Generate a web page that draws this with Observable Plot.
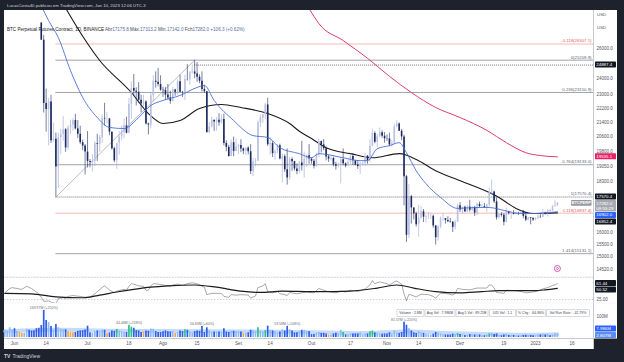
<!DOCTYPE html>
<html><head><meta charset="utf-8">
<script src="https://cdn.jsdelivr.net/npm/d3@7"></script>
<script src="https://cdn.jsdelivr.net/npm/@observablehq/plot@0.6"></script>
<style>
html,body{margin:0;padding:0;}
body{width:624px;height:362px;background:#1e222d;position:relative;overflow:hidden;font-family:"Liberation Sans","DejaVu Sans",Arial,sans-serif;}
#frame{position:absolute;left:4px;top:10px;width:613px;height:339px;background:#fff;}
#frame svg{position:absolute;left:0;display:block;overflow:visible;}
#overlay{position:absolute;left:0;top:0;pointer-events:none;}
</style></head><body>
<div id="frame"></div>
<svg id="overlay" width="624" height="362"></svg>
<script>
// ---------------- DATA ----------------
const firstDay = "2022-05-28";
const lastDay = "2023-01-10";
const firstOpen = 28900;
const gapOpens = {"2022-06-12": 27800};
const closes = [
 29030,29450,31720,31790,
 29800,30450,29700,29860,29910,31370,31130,30200,30110,29080,28800,26575,22490,22130,22570,20380,20470,19020,20550,20720,20980,20000,21100,21230,21500,21030,20730,20280,20100,19780,
 19300,19240,19300,20230,20190,20550,21620,21590,21590,20850,19960,19330,20230,20590,20830,21200,20790,22430,23400,23230,23160,22680,22460,22580,21310,21250,22950,23850,23780,23640,23290,
 23270,22990,22820,22620,23310,23170,23810,23160,23150,23950,23940,24400,24440,24300,24100,23850,23340,23200,20830,21140,21520,21410,21520,21370,21560,20240,20030,19550,20280,19810,20050,
 20130,19950,19830,19990,19800,18790,19290,19320,21360,21650,21830,22400,20170,20230,19700,19800,20110,19420,19540,18880,18480,19400,19290,18920,18800,19220,19080,19410,19590,19420,
 19310,19050,19630,20340,20160,19960,19530,19420,19450,19130,19060,19160,19380,19180,19070,19260,19550,19330,19120,19040,19170,19210,19570,19330,20090,20770,20300,20600,20820,20630,20490,
 20480,20160,20210,21150,21300,20900,20590,18540,15880,17590,17070,16810,16330,16620,16900,16660,16690,16700,16700,16280,15780,16230,16600,16600,16520,16460,16440,16220,16440,17170,
 16980,17100,16890,17110,16970,17090,16840,17230,17130,17130,17090,17210,17780,17800,17350,16630,16780,16740,16440,16900,16820,16820,16780,16840,16830,16910,16700,16530,16630,16600,16540,
 16610,16670,16660,16850,16830,16950,16940,17120,17175.8,17282.0
];
const highs = [
 29250,29550,32220,32400,
 31900,30650,30700,29950,30150,31700,31550,31300,30650,30350,29450,27850,26900,23360,22800,22980,21350,20800,20800,21000,21720,21050,21200,21520,21600,21860,21500,21180,20420,20180,
 20880,19400,19650,20330,20730,20670,21820,22500,21950,21600,20860,20040,20250,20880,21200,21580,21690,22780,23800,24280,23440,23760,22990,22980,22650,21350,23100,24200,24440,24660,24190,
 23470,23450,23640,23220,23460,23350,23920,24240,23220,24230,24920,24460,24890,25209.9,25050,24250,24450,23600,23200,21380,21680,21520,21680,21890,21820,21870,20380,20140,20420,20580,20480,
 20200,20440,20000,20000,20060,20180,19460,19440,21480,21800,21860,22490,22800,20550,20340,19900,20190,20200,19680,19640,19950,19500,19490,19310,19180,19300,20350,19780,19640,20180,
 19480,19400,19720,20470,20370,20450,20050,19620,19550,19520,19250,19220,19500,19950,19220,19420,19680,19700,19350,19340,19250,19260,19700,19600,20420,21020,20870,20750,21080,20930,20830,
 20700,20800,20390,21300,21480,21370,21000,20680,18600,18150,17650,17070,16880,17190,17130,17000,16750,16870,16810,16750,16300,16290,16670,16800,16600,16680,16600,16480,16530,17250,
 17320,17110,17150,17190,17420,17110,17140,17290,17340,17230,17270,17240,18000,18390,17840,17530,16800,16860,16820,17060,16920,16860,16950,16860,16870,16940,16960,16780,16650,16640,16640,
 16630,16760,16770,16990,16880,17000,16970,17180,17400,17313.2
];
const lows = [
 28850,28950,29300,31200,
 29300,29600,29300,29500,29500,29900,29250,30000,29950,28900,28760,26560,21925,20850,20110,20230,20300,17570.4,17960,19640,20350,19770,19880,20720,20900,20970,20500,20180,19850,18620,
 18970,18980,18780,19050,19300,19770,20250,21190,21320,20650,19880,19240,18900,19630,20380,20480,20760,20760,21580,22900,22340,22500,21950,22260,21250,20700,21040,22580,23420,23500,23220,
 22850,22660,22680,22440,22590,22920,22990,23150,22850,22660,23860,23590,24290,24000,23780,23700,23180,23100,20780,20760,21080,20890,20900,21180,21300,20110,19800,19520,19550,19540,19800,
 19650,19750,19650,19600,19640,18640,18540,19030,19300,21100,21350,21560,20080,19620,19500,19340,19690,19380,18230,18740,18130,18360,18810,18820,18630,18680,18820,18470,19000,19160,
 19160,18920,19000,19500,19730,19850,19330,19250,19320,19030,18860,18970,18190,19080,18980,19070,19160,19100,19070,18900,18650,19120,19070,19160,19240,20060,20220,20000,20550,20520,20250,
 20340,20060,20040,20180,21080,20880,20390,17170,15590,15750,16360,16540,16230,15810,16540,16430,16400,16560,16560,16180,15480,15650,16170,16480,16360,16420,16400,16000,16110,16430,
 16870,16790,16880,16870,16880,16900,16690,16730,17090,17090,17070,16870,17080,17660,17270,16530,16580,16660,16280,16400,16750,16560,16750,16780,16730,16780,16590,16460,16500,16330,16470,
 16500,16550,16600,16650,16750,16670,16900,16900,17100,17142.0
];
const volumes = [
 12,10,22,14,
 18,9,6,4,4,16,12,10,11,18,20,34,169.97,67,52,28,13,40,22,16,14,14,8,6,5,6,9,10,11,13,
 30,5,5,8,10,8,12,12,4,5,10,9,15,10,8,6,6,34,25,20,11,10,6,7,10,9,17,16,8,6,6,
 8,10,8,7,8,4,6,10,8,14,12,7,5,8,10,9,28,6,22,10,6,7,7,7,6,18,7,6,9,9,8,
 8,7,4,4,5,12,11,8,22,9,7,11,30,12,10,8,5,7,14,10,28,14,10,5,5,8,12,12,9,8,
 2,2,4,6,4,4,3,1.5,1.5,3,4,3,12,6,1.5,1.5,3,3,3,3,5,1.5,3,3,8,10,5,4,3,2.5,3,
 3,5,3,10,5,4,6,55,35,18,10,5,4,8,5,4,2.5,2.5,1.5,2.5,6,4,3,2,1.5,1.5,1.5,2.5,2,3.5,
 2,1.5,1,1,2,1.5,1.5,1.5,1.5,0.7,0.7,1.5,3,4,2,3,1,0.7,1.5,2.5,1,1,1,0.5,0.5,0.8,1,1.2,1,1,0.7,
 0.7,1.5,1.5,2.5,1.5,2.5,0.7,1.5,3.5,2.807
];
const greenVolDays = ["2022-07-13","2022-07-18","2022-07-19","2022-08-10","2022-09-09","2022-09-12","2022-10-14","2022-10-25","2022-10-26","2022-11-30","2022-12-13"];
const orangeVolDays = ["2022-06-03","2022-06-04","2022-06-23","2022-06-24","2022-06-25","2022-07-09","2022-07-24","2022-08-06","2022-09-03","2022-10-08"];
const volLabelDays = ["2022-06-13","2022-07-18","2022-08-17","2022-09-21","2022-11-08"];
const volLabelTexts = ["169.97M (+250%)","44.48M (+158%)","56.83M (+60%)","59.58M (+108%)","81.57M (+220%)"];
const avgVol = [["2022-05-28",9],["2022-06-20",14],["2022-07-10",11],["2022-08-01",10],["2022-09-01",9],["2022-10-01",7],["2022-10-20",4.5],["2022-11-10",9],["2022-11-25",5],["2022-12-10",3],["2022-12-31",2],["2023-01-10",2.5]];

const maBlue = [["2022-06-12",29100],["2022-06-15",27990],["2022-06-19",26760],["2022-06-24",24530],["2022-06-29",22850],["2022-07-05",21670],["2022-07-10",21110],["2022-07-16",21050],["2022-07-22",21670],["2022-07-27",22370],["2022-08-01",22670],["2022-08-08",22970],["2022-08-15",23460],["2022-08-18",23580],["2022-08-22",22670],["2022-08-30",21500],["2022-09-07",20660],["2022-09-13",20560],["2022-09-18",20010],["2022-09-26",19700],["2022-10-01",19490],["2022-10-04",19700],["2022-10-14",19490],["2022-10-21",19340],["2022-10-24",19340],["2022-10-28",19960],["2022-11-02",20120],["2022-11-06",20280],["2022-11-09",19750],["2022-11-13",18830],["2022-11-17",18200],["2022-11-23",17550],["2022-11-30",17050],["2022-12-07",17090],["2022-12-13",17090],["2022-12-19",16960],["2022-12-26",16820],["2022-12-31",16820],["2023-01-10",16902]];
const maBlack = [["2022-06-20",29600],["2022-06-25",27990],["2022-07-06",25190],["2022-07-19",23150],["2022-07-26",21900],["2022-08-01",21330],["2022-08-08",21500],["2022-08-16",22190],["2022-08-25",22430],["2022-09-02",22250],["2022-09-13",21900],["2022-09-22",21330],["2022-09-26",20900],["2022-10-01",20500],["2022-10-07",20010],["2022-10-17",19700],["2022-10-26",19490],["2022-11-06",19700],["2022-11-14",19340],["2022-11-21",18830],["2022-11-30",18390],["2022-12-13",17780],["2022-12-17",17550],["2022-12-24",17050],["2022-12-31",16820],["2023-01-10",16852.4]];
const maPink = [["2022-09-28",29500],["2022-10-02",28300],["2022-10-04",27770],["2022-10-14",26550],["2022-10-24",25340],["2022-11-02",24160],["2022-11-11",23150],["2022-11-21",22250],["2022-12-01",21670],["2022-12-12",20950],["2022-12-20",20280],["2022-12-28",19750],["2023-01-03",19600],["2023-01-10",19535.1]];

const fibLevels = ["-0.118","0","0.236","0.764","1","1.118","1.414"];
const fibPrices = [26307.1,25209.9,23150.9,19133.0,17570.4,16837.4,15131.1];
const fibFrom = ["2022-06-18",17570.4];
const fibTo = ["2022-08-14",25209.9];
const hLine = ["2022-08-14",24887.4];
const eventDay = "2023-01-10";

const rsi = [["2022-05-28",40],["2022-05-30",50],["2022-05-31",52],["2022-06-02",50],["2022-06-04",48],["2022-06-06",55],["2022-06-08",50],["2022-06-10",42],["2022-06-11",38],["2022-06-12",30],["2022-06-13",21],["2022-06-14",21],["2022-06-15",22],["2022-06-16",19],["2022-06-18",16],["2022-06-19",27],["2022-06-21",29],["2022-06-22",27],["2022-06-23",32],["2022-06-25",34],["2022-06-28",32],["2022-06-30",30],["2022-07-02",30],["2022-07-04",38],["2022-07-07",52],["2022-07-08",56],["2022-07-10",47],["2022-07-12",40],["2022-07-13",44],["2022-07-16",48],["2022-07-17",46],["2022-07-18",55],["2022-07-19",61],["2022-07-20",60],["2022-07-22",56],["2022-07-24",55],["2022-07-25",46],["2022-07-26",46],["2022-07-27",56],["2022-07-28",61],["2022-07-30",60],["2022-08-01",58],["2022-08-04",55],["2022-08-05",58],["2022-08-07",60],["2022-08-09",57],["2022-08-11",61],["2022-08-13",63],["2022-08-14",62],["2022-08-16",59],["2022-08-17",55],["2022-08-18",53],["2022-08-19",36],["2022-08-21",39],["2022-08-25",39],["2022-08-26",32],["2022-08-28",30],["2022-08-29",36],["2022-08-31",35],["2022-09-02",36],["2022-09-05",35],["2022-09-06",28],["2022-09-08",33],["2022-09-09",52],["2022-09-11",56],["2022-09-12",61],["2022-09-13",43],["2022-09-15",40],["2022-09-17",43],["2022-09-18",38],["2022-09-20",36],["2022-09-21",34],["2022-09-22",41],["2022-09-25",38],["2022-09-27",40],["2022-09-29",42],["2022-10-02",40],["2022-10-04",50],["2022-10-05",48],["2022-10-07",44],["2022-10-10",41],["2022-10-11",40],["2022-10-13",44],["2022-10-15",42],["2022-10-17",46],["2022-10-20",43],["2022-10-23",49],["2022-10-25",58],["2022-10-26",68],["2022-10-27",61],["2022-10-29",65],["2022-11-01",61],["2022-11-02",58],["2022-11-04",65],["2022-11-05",67],["2022-11-07",60],["2022-11-08",38],["2022-11-09",22],["2022-11-10",37],["2022-11-11",35],["2022-11-13",31],["2022-11-14",34],["2022-11-15",37],["2022-11-18",36],["2022-11-20",32],["2022-11-21",28],["2022-11-22",34],["2022-11-23",39],["2022-11-26",38],["2022-11-28",35],["2022-11-29",39],["2022-11-30",50],["2022-12-02",48],["2022-12-05",47],["2022-12-08",51],["2022-12-12",51],["2022-12-13",58],["2022-12-14",58],["2022-12-15",51],["2022-12-16",41],["2022-12-19",39],["2022-12-20",46],["2022-12-24",45],["2022-12-27",42],["2022-12-28",40],["2022-12-31",42],["2023-01-02",44],["2023-01-04",49],["2023-01-06",52],["2023-01-08",57],["2023-01-09",58],["2023-01-10",61.44]];
const rsiMA = [["2022-05-28",39],["2022-06-08",38],["2022-06-18",31],["2022-06-29",29],["2022-07-06",35],["2022-07-13",42],["2022-07-20",48],["2022-07-27",53],["2022-08-03",56],["2022-08-14",58],["2022-08-23",53],["2022-09-02",44],["2022-09-10",41],["2022-09-19",44],["2022-10-01",43],["2022-10-10",43],["2022-10-17",44],["2022-10-28",51],["2022-11-05",58],["2022-11-12",51],["2022-11-21",43],["2022-12-01",40],["2022-12-10",43],["2022-12-17",45],["2022-12-25",45],["2022-12-31",45],["2023-01-05",47],["2023-01-10",50.52]];

const priceTicks = [26000,24000,23000,22200,21400,20600,19800,19050,18300,16000,15500,15000,14520];
const xTickDates = ["2022-06-01","2022-06-14","2022-07-01","2022-07-18","2022-08-01","2022-08-15","2022-09-01","2022-09-14","2022-10-01","2022-10-17","2022-11-01","2022-11-14","2022-12-01","2022-12-19","2023-01-01","2023-01-16"];
const xTickLabels = ["Jun","14","Jul","18","Ago","15","Set","14","Out","17","Nov","14","Dez","19","2023","16"];

// ---------------- BUILD ----------------
const D = s => new Date(s + "T00:00:00Z");
const dayMs = 864e5;
const W = 613, AXW = 24;
const xDomain = [new Date(D("2022-06-01") - 4.107 * dayMs), new Date(+D("2022-06-01") + 237.82 * dayMs)];
const font = '"Liberation Sans","DejaVu Sans",Arial,sans-serif';
const fmtKey = d3.utcFormat("%Y-%m-%d");

const dates = d3.utcDay.range(D(firstDay), new Date(+D(lastDay) + dayMs));
const candles = dates.map((date, i) => {
  const key = fmtKey(date);
  const open = key in gapOpens ? gapOpens[key] : (i ? closes[i - 1] : firstOpen);
  const close = closes[i];
  return {date, key, open, close, high: Math.max(highs[i], open, close), low: Math.min(lows[i], open, close), volume: volumes[i]};
});
const byKey = new Map(candles.map(d => [d.key, d]));
const upC = candles.filter(d => d.close >= d.open);
const downC = candles.filter(d => d.close < d.open);
const pairs = a => a.map(([d, v]) => ({date: D(d), v}));
const fib = fibLevels.map((l, i) => ({level: l, price: fibPrices[i]}));
const fibStart = D(fibFrom[0]);
const isPinkFib = d => d.level === "-0.118" || d.level === "1.118";

const UP = "#b9c2e2", UPW = "#9aa6d0", DOWN = "#1c2a5e";
const baseStyle = {background: "transparent", fontFamily: font, fontSize: "4.5px", color: "#50535e", overflow: "visible"};

const price = Plot.plot({
  width: W, height: 267, marginLeft: 0, marginRight: AXW, marginTop: 0, marginBottom: 0,
  style: baseStyle,
  x: {type: "utc", domain: xDomain, axis: null},
  y: {type: "log", domain: [14209, 28741], axis: "right", ticks: priceTicks, tickFormat: d3.format(".1f"), tickSize: 0, tickPadding: 3, label: null},
  marks: [
    Plot.ruleY(fib.filter(isPinkFib), {y: "price", x1: () => fibStart, x2: () => xDomain[1], stroke: "#f2a7a7", strokeWidth: 0.8}),
    Plot.ruleY(fib.filter(d => ["0","0.236","0.764","1.414"].includes(d.level)), {y: "price", x1: () => fibStart, x2: () => xDomain[1], stroke: "#8a8d96", strokeWidth: 0.8}),
    Plot.ruleY(fib.filter(d => d.level === "1"), {y: "price", x1: () => fibStart, x2: () => xDomain[1], stroke: "#333", strokeWidth: 0.7, strokeDasharray: "1,1"}),
    Plot.ruleY([hLine], {y: d => d[1], x1: d => D(d[0]), x2: () => xDomain[1], stroke: "#333", strokeWidth: 0.7, strokeDasharray: "1,1"}),
    Plot.link([[fibFrom, fibTo]], {x1: d => D(d[0][0]), y1: d => d[0][1], x2: d => D(d[1][0]), y2: d => d[1][1], stroke: "#8a8d96", strokeWidth: 0.6}),
    Plot.text(fib.filter(isPinkFib), {x: () => xDomain[1], y: "price", text: d => `${d.level}(${d.price.toFixed(1)})`, textAnchor: "end", dx: -2, dy: -3, fill: "#e05a5a", fontSize: 4.3}),
    Plot.text(fib.filter(d => !isPinkFib(d)), {x: () => xDomain[1], y: "price", text: d => `${d.level}(${d.price.toFixed(1)})`, textAnchor: "end", dx: -2, dy: -3, fill: "#5d606b", fontSize: 4.3}),
    Plot.line(pairs(maPink), {x: "date", y: "v", stroke: "#dd3e6f", strokeWidth: 1, curve: "monotone-x", clip: true}),
    Plot.line(pairs(maBlack), {x: "date", y: "v", stroke: "#1b1b1b", strokeWidth: 1.1, curve: "monotone-x", clip: true}),
    Plot.ruleX(upC, {x: "date", y1: "low", y2: "high", stroke: UPW, strokeWidth: 0.6, clip: true}),
    Plot.ruleX(downC, {x: "date", y1: "low", y2: "high", stroke: DOWN, strokeWidth: 0.6, clip: true}),
    Plot.ruleX(upC, {x: "date", y1: "open", y2: "close", stroke: UP, strokeWidth: 1.6, clip: true}),
    Plot.ruleX(downC, {x: "date", y1: "open", y2: "close", stroke: DOWN, strokeWidth: 1.6, clip: true}),
    Plot.line(pairs(maBlue), {x: "date", y: "v", stroke: "#4a6fd6", strokeWidth: 0.9, curve: "monotone-x", clip: true}),
    Plot.dot([D(eventDay)], {x: d => d, frameAnchor: "bottom", dy: -9, r: 3, stroke: "#c2188b", fill: "#fff", strokeWidth: 0.7}),
    Plot.dot([D(eventDay)], {x: d => d, frameAnchor: "bottom", dy: -9, r: 1, stroke: "#c2188b", fill: "none", strokeWidth: 0.6})
  ]
});

const rsiPlot = Plot.plot({
  width: W, height: 26, marginLeft: 0, marginRight: AXW, marginTop: 0, marginBottom: 0,
  style: baseStyle,
  x: {type: "utc", domain: xDomain, axis: null},
  y: {domain: [15.9, 75], axis: "right", ticks: [25], tickFormat: d3.format(".2f"), tickSize: 0, tickPadding: 3, label: null},
  marks: [
    Plot.ruleY([75, 25], {stroke: "#b2b5be", strokeWidth: 0.6, strokeDasharray: "1.5,1.5"}),
    Plot.line(pairs(rsi), {x: "date", y: "v", stroke: "#6b6e78", strokeWidth: 0.6, clip: true}),
    Plot.line(pairs(rsiMA), {x: "date", y: "v", stroke: "#1b1b1b", strokeWidth: 1.2, curve: "monotone-x", clip: true})
  ]
});

const gSet = new Set(greenVolDays), oSet = new Set(orangeVolDays);
const volCat = d => gSet.has(d.key) ? "g" : oSet.has(d.key) ? "o" : d.close >= d.open ? "u" : "d";
const volLabelData = volLabelDays.map((k, i) => ({date: D(k), volume: byKey.get(k).volume, text: volLabelTexts[i]}));
const volPlot = Plot.plot({
  width: W, height: 35, marginLeft: 0, marginRight: AXW, marginTop: 0, marginBottom: 1,
  style: baseStyle,
  x: {type: "utc", domain: xDomain, axis: null},
  y: {type: "sqrt", domain: [0, 270], axis: "right", ticks: [100], tickFormat: () => "100M", tickSize: 0, tickPadding: 3, label: null},
  marks: [
    Plot.line(pairs(avgVol), {x: "date", y: "v", stroke: "#9cc3f5", strokeWidth: 3.8, strokeOpacity: 0.6, curve: "monotone-x"}),
    Plot.ruleX(candles.filter(d => volCat(d) === "u"), {x: "date", y1: () => 0, y2: "volume", stroke: "#8fb8f6", strokeWidth: 1.7}),
    Plot.ruleX(candles.filter(d => volCat(d) === "d"), {x: "date", y1: () => 0, y2: "volume", stroke: "#2f5ee8", strokeWidth: 1.7}),
    Plot.ruleX(candles.filter(d => volCat(d) === "g"), {x: "date", y1: () => 0, y2: "volume", stroke: "#2fbf8f", strokeWidth: 1.7}),
    Plot.ruleX(candles.filter(d => volCat(d) === "o"), {x: "date", y1: () => 0, y2: "volume", stroke: "#f5a34a", strokeWidth: 1.7}),
    Plot.text(volLabelData, {x: "date", y: "volume", text: "text", dy: -2.5, fill: "#6b6e78", fontSize: 3.5})
  ]
});

const xAxisPlot = Plot.plot({
  width: W, height: 11, marginLeft: 0, marginRight: AXW, marginTop: 0, marginBottom: 0,
  style: baseStyle,
  x: {type: "utc", domain: xDomain, axis: null},
  marks: [
    Plot.text(xTickDates.map((d, i) => ({date: D(d), label: xTickLabels[i]})), {x: "date", text: "label", frameAnchor: "middle", fill: "#50535e", fontSize: 4.6})
  ]
});

const frame = document.getElementById("frame");
[[price, 0], [rsiPlot, 267], [volPlot, 293], [xAxisPlot, 328]].forEach(([svg, top]) => {
  svg.style.top = top + "px";
  frame.appendChild(svg);
});

// ---------- value tags on the right axis (positions via each plot's y scale) ----------
function yFn(plot) {
  const s = plot.scale("y");
  if (s && typeof s.apply === "function") return v => s.apply(v);
  const sc = s.type === "log" ? d3.scaleLog() : s.type === "sqrt" ? d3.scaleSqrt() : d3.scaleLinear();
  return sc.domain(s.domain).range(s.range);
}
function drawTags(svg, tags, yOf, paneH) {
  const g = d3.select(svg).append("g").attr("font-family", font).attr("text-anchor", "start");
  const placed = tags.map(t => ({...t, y: yOf(t.value)})).sort((a, b) => a.y - b.y);
  let prevBottom = -Infinity;
  for (const t of placed) {
    t.h = t.lines.length * 5.4 + 0.6;
    t.top = Math.max(t.y - 3, prevBottom + 0.5);
    prevBottom = t.top + t.h;
  }
  const over = prevBottom - paneH;
  if (over > 0) placed.forEach(t => t.top -= over);
  const x0 = W - AXW + 2;
  for (const t of placed) {
    g.append("rect").attr("x", x0).attr("y", t.top).attr("width", 21).attr("height", t.h).attr("rx", 0.7).attr("fill", t.bg);
    t.lines.forEach((s, i) => g.append("text").attr("x", x0 + 1.3).attr("y", t.top + 3 + i * 5.4).attr("dy", "0.35em")
      .attr("text-anchor", "start").attr("font-size", 4.4).attr("fill", t.fg || "#fff").text(s));
    if (t.tag) {
      g.append("rect").attr("x", x0 - 24).attr("y", t.top).attr("width", 20.5).attr("height", 5.8).attr("rx", 0.7).attr("fill", "#9598a1");
      g.append("text").attr("x", x0 - 13.75).attr("y", t.top + 3).attr("dy", "0.35em").attr("text-anchor", "middle")
        .attr("font-size", 4.1).attr("font-weight", "bold").attr("fill", "#fff").text(t.tag);
    }
  }
}
drawTags(price, [
  {value: 24887.4, lines: ["24887.4"], bg: "#131722"},
  {value: 19535.1, lines: ["19535.1"], bg: "#e91e63"},
  {value: 17570.4, lines: ["17570.4"], bg: "#131722"},
  {value: 17282.0, lines: ["17282.0", "08:53:29"], bg: "#a6a9b2", tag: "BTCPERP"},
  {value: 16902.0, lines: ["16902.0"], bg: "#2962ff"},
  {value: 16852.4, lines: ["16852.4"], bg: "#131722"}
], yFn(price), 267);
drawTags(rsiPlot, [
  {value: 61.44, lines: ["61.44"], bg: "#131722"},
  {value: 50.52, lines: ["50.52"], bg: "#131722"}
], yFn(rsiPlot), 26);
drawTags(volPlot, [
  {value: 7.986, lines: ["7.986M"], bg: "#2962ff"},
  {value: 2.807, lines: ["2.807M"], bg: "#5b8cf2"}
], yFn(volPlot), 35);

// ---------- static chrome: header, legend, separators, info table, logo ----------
const ov = d3.select("#overlay").attr("font-family", font);
ov.append("line").attr("x1", 593.5).attr("x2", 593.5).attr("y1", 10).attr("y2", 349).attr("stroke", "#b8bbc3").attr("stroke-width", 0.8);
ov.append("line").attr("x1", 4).attr("x2", 593).attr("y1", 277).attr("y2", 277).attr("stroke", "#e0e3eb").attr("stroke-width", 0.6);
ov.append("line").attr("x1", 4).attr("x2", 617).attr("y1", 303).attr("y2", 303).attr("stroke", "#eceef2").attr("stroke-width", 0.6);
ov.append("line").attr("x1", 4).attr("x2", 593).attr("y1", 338.5).attr("y2", 338.5).attr("stroke", "#b8bbc3").attr("stroke-width", 0.8);
ov.append("rect").attr("x", 594).attr("y", 338.5).attr("width", 23).attr("height", 11).attr("fill", "#1e222d");

ov.append("text").attr("x", 7).attr("y", 7).attr("font-size", 4.3).attr("fill", "#d1d4dc")
  .text("LucasCosta40 publicou em TradingView.com, Jan 10, 2023 12:06 UTC-3");
const leg = ov.append("text").attr("x", 7).attr("y", 31).attr("font-size", 4.6).attr("fill", "#131722");
leg.append("tspan").text("BTC Perpetual Futures Contract, 1D, BINANCE  ");
[["Abr", "17175.8"], ["Máx.", "17313.2"], ["Mín.", "17142.0"], ["Fch", "17282.0"]].forEach(([k, v]) => {
  leg.append("tspan").attr("fill", "#434651").text(" " + k);
  leg.append("tspan").attr("fill", "#5b6b9e").text(v + " ");
});
leg.append("tspan").attr("fill", "#5b6b9e").text(" +106.3 (+0.62%)");

ov.append("text").attr("x", 597).attr("y", 16).attr("font-size", 4.4).attr("fill", "#50535e").text("USD");
ov.append("text").attr("x", 597).attr("y", 29).attr("font-size", 4.4).attr("fill", "#50535e").text("USD");

const cells = [["Volume : 2.8M", 397, 27], ["Avg Vol : 7.986M", 425, 30], ["Avg 5 Vol : 89.21B", 456, 32], ["U/D Vol : 1.1", 489.5, 26], ["% Chg : -64.86%", 516.5, 29], ["Vol Run Rate : -42.79%", 546.5, 43]];
cells.forEach(([t, x, w]) => {
  ov.append("rect").attr("x", x).attr("y", 309.8).attr("width", w).attr("height", 6.8).attr("fill", "#fff").attr("stroke", "#b2b5be").attr("stroke-width", 0.5);
  ov.append("text").attr("x", x + w / 2).attr("y", 314.4).attr("text-anchor", "middle").attr("font-size", 3.5).attr("fill", "#434651").text(t);
});

ov.append("text").attr("x", 4).attr("y", 357.5).attr("font-size", 5).attr("font-weight", "bold").attr("fill", "#d1d4dc").text("TV");
ov.append("text").attr("x", 12.5).attr("y", 357.5).attr("font-size", 5).attr("fill", "#d1d4dc").text("TradingView");
</script>
</body></html>
